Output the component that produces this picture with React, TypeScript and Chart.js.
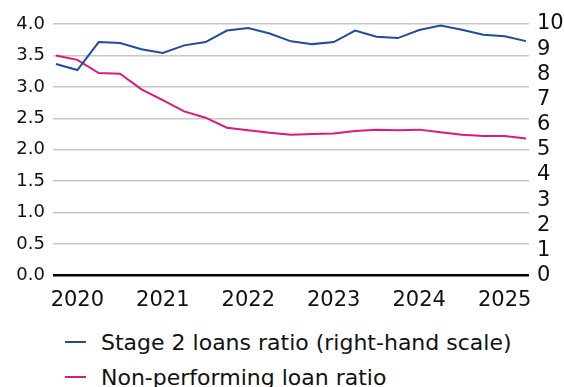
import React, { useEffect, useRef } from "react";
import { Chart, registerables } from "chart.js";

Chart.register(...registerables);

// Quarterly observations, 2019Q4 – 2025Q2
const QUARTERS = [
  "2019Q4",
  "2020Q1", "2020Q2", "2020Q3", "2020Q4",
  "2021Q1", "2021Q2", "2021Q3", "2021Q4",
  "2022Q1", "2022Q2", "2022Q3", "2022Q4",
  "2023Q1", "2023Q2", "2023Q3", "2023Q4",
  "2024Q1", "2024Q2", "2024Q3", "2024Q4",
  "2025Q1", "2025Q2",
];

// Stage 2 loans ratio, % (right-hand scale)
const STAGE2_RATIO = [
  8.41, 8.17, 9.28, 9.24, 9.0, 8.85, 9.15, 9.28, 9.74, 9.84, 9.62, 9.31,
  9.2, 9.28, 9.74, 9.49, 9.44, 9.76, 9.94, 9.77, 9.57, 9.51, 9.32,
];

// Non-performing loan ratio, % (left-hand scale)
const NPL_RATIO = [
  3.5, 3.43, 3.22, 3.21, 2.96, 2.79, 2.61, 2.51, 2.35, 2.31, 2.27, 2.24,
  2.25, 2.26, 2.3, 2.32, 2.31, 2.32, 2.28, 2.24, 2.22, 2.22, 2.18,
];

const YEAR_LABELS = ["2020", "2021", "2022", "2023", "2024", "2025"];

const SERIES_NAMES = ["Stage 2 loans ratio (right-hand scale)", "Non-performing loan ratio"];

const BLUE = "#1f4c9c";
const PINK = "#e0187a";
const FONT = "DejaVu Sans";

export default function App() {
  const canvasRef = useRef<HTMLCanvasElement | null>(null);

  useEffect(() => {
    const canvas = canvasRef.current;
    if (!canvas) return;

    // year ticks sit on the first quarter of each year
    const yearTickIndex = YEAR_LABELS.map((y) => QUARTERS.indexOf(y + "Q1"));

    const chart = new Chart(canvas, {
      type: "line",
      data: {
        datasets: [
          {
            label: SERIES_NAMES[0],
            data: QUARTERS.map((_, i) => ({ x: i, y: STAGE2_RATIO[i] })),
            borderColor: BLUE,
            backgroundColor: BLUE,
            borderWidth: 2,
            pointRadius: 0,
            tension: 0,
            yAxisID: "y2",
          },
          {
            label: SERIES_NAMES[1],
            data: QUARTERS.map((_, i) => ({ x: i, y: NPL_RATIO[i] })),
            borderColor: PINK,
            backgroundColor: PINK,
            borderWidth: 2,
            pointRadius: 0,
            tension: 0,
            yAxisID: "y",
          },
        ],
      },
      options: {
        responsive: false,
        animation: false,
        devicePixelRatio: 1,
        layout: { padding: { top: 24, left: 0, right: 0, bottom: 0 } },
        plugins: {
          legend: { display: false },
          tooltip: { enabled: false },
        },
        scales: {
          x: {
            type: "linear",
            min: -0.14,
            max: QUARTERS.length - 1 + 0.14,
            grid: { display: false },
            border: { display: false },
            afterBuildTicks: (scale: any) => {
              scale.ticks = yearTickIndex.map((v) => ({ value: v }));
            },
            afterFit: (scale: any) => {
              scale.height = 44.5;
            },
            ticks: {
              autoSkip: false,
              maxRotation: 0,
              padding: 4,
              color: "#111",
              font: { family: FONT, size: 21 },
              callback: (value: any) => {
                const k = yearTickIndex.indexOf(Number(value));
                return k >= 0 ? YEAR_LABELS[k] : "";
              },
            },
          },
          y: {
            position: "left",
            min: 0,
            max: 4,
            border: { display: false },
            grid: {
              drawTicks: false,
              color: (ctx: any) => (ctx.tick && ctx.tick.value === 0 ? "#000" : "#c8c8c8"),
              lineWidth: (ctx: any) => (ctx.tick && ctx.tick.value === 0 ? 2.5 : 1.5),
            },
            afterFit: (scale: any) => {
              scale.width = 53;
            },
            ticks: {
              stepSize: 0.5,
              autoSkip: false,
              padding: 8,
              color: "#111",
              font: { family: FONT, size: 18 },
              callback: (value: any) => Number(value).toFixed(1),
            },
          },
          y2: {
            position: "right",
            min: 0,
            max: 10,
            border: { display: false },
            grid: { display: false, drawTicks: false },
            afterFit: (scale: any) => {
              scale.width = 35;
            },
            ticks: {
              stepSize: 1,
              autoSkip: false,
              padding: 8,
              color: "#111",
              font: { family: FONT, size: 21, lineHeight: 1 },
            },
          },
        },
      },
    });

    return () => chart.destroy();
  }, []);

  const legendColors = [BLUE, PINK];

  return (
    <div
      style={{
        position: "fixed",
        left: 0,
        top: 0,
        width: 564,
        height: 387,
        overflow: "hidden",
        background: "#fff",
        fontFamily: FONT,
      }}
    >
      <canvas ref={canvasRef} width={564} height={320} style={{ display: "block" }} />
      {SERIES_NAMES.map((name, i) => (
        <div
          key={name}
          style={{
            position: "absolute",
            left: 65,
            top: 327 + i * 35,
            height: 30,
            display: "flex",
            alignItems: "center",
            whiteSpace: "nowrap",
            color: "#111",
            fontSize: 22,
          }}
        >
          <span
            style={{
              display: "inline-block",
              width: 21,
              height: 2,
              background: legendColors[i],
              marginRight: 15,
            }}
          />
          <span>{name}</span>
        </div>
      ))}
    </div>
  );
}
